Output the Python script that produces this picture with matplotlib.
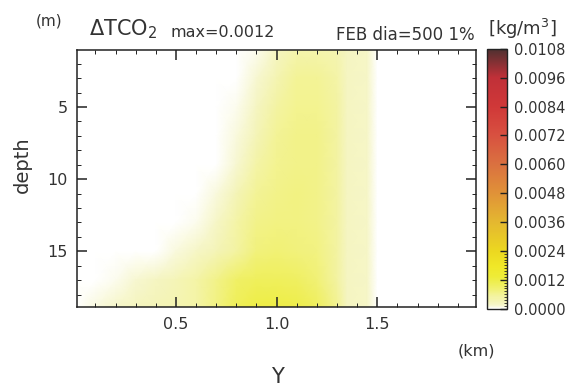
import numpy as np
import matplotlib
matplotlib.use("Agg")
import matplotlib.pyplot as plt
from matplotlib.colors import LinearSegmentedColormap
from matplotlib.ticker import MultipleLocator, FixedLocator

# horizontal distance Y (km) and depth (m) of the grid
y_km = [0.0, 0.1, 0.2, 0.3, 0.4, 0.5, 0.6, 0.7, 0.8, 0.9, 1.0,
        1.1, 1.2, 1.3, 1.35, 1.45, 1.5, 1.6, 1.8, 2.0]
depth_m = [1, 3, 5, 7, 9, 11, 13, 15, 17, 19]

# delta TCO2 in 1e-4 kg/m3, one row per depth
d01 = [0, 0, 0, 0, 0, 0, 0, 0, 0.0, 0.8, 2.5, 4.0, 4.0, 3.5, 2.2, 1.8, 0, 0, 0, 0]
d03 = [0, 0, 0, 0, 0, 0, 0, 0, 0.3, 1.6, 3.5, 5.5, 5.5, 4.5, 2.5, 2.0, 0, 0, 0, 0]
d05 = [0, 0, 0, 0, 0, 0, 0, 0, 0.6, 2.2, 5.0, 6.0, 6.0, 5.0, 2.5, 2.0, 0, 0, 0, 0]
d07 = [0, 0, 0, 0, 0, 0, 0, 0.2, 1.2, 3.2, 5.5, 6.5, 6.5, 5.0, 2.5, 2.0, 0, 0, 0, 0]
d09 = [0, 0, 0, 0, 0, 0, 0, 0.4, 1.6, 4.5, 6.0, 6.5, 6.5, 5.0, 2.5, 2.0, 0, 0, 0, 0]
d11 = [0, 0, 0, 0, 0, 0, 0.2, 0.9, 3.0, 5.5, 6.5, 7.0, 6.5, 5.0, 2.5, 2.0, 0, 0, 0, 0]
d13 = [0, 0, 0, 0, 0, 0.2, 0.8, 1.8, 4.5, 6.5, 7.0, 7.0, 6.5, 5.0, 2.5, 2.0, 0, 0, 0, 0]
d15 = [0, 0, 0, 0, 0.3, 1.0, 2.0, 3.0, 5.0, 7.5, 8.0, 7.5, 7.0, 5.0, 2.5, 2.0, 0, 0, 0, 0]
d17 = [0, 0.2, 0.8, 1.5, 2.4, 3.2, 4.5, 6.5, 9.0, 10.0, 10.0, 9.5, 8.0, 5.0, 2.5, 2.0, 0, 0, 0, 0]
d19 = [0.2, 1.2, 2.0, 2.6, 3.0, 3.5, 4.5, 7.0, 10.5, 12.0, 12.0, 11.5, 10.0, 6.0, 2.5, 2.0, 0, 0, 0, 0]

cbar_ticks = [0.0000, 0.0012, 0.0024, 0.0036, 0.0048, 0.0060,
              0.0072, 0.0084, 0.0096, 0.0108]

tco2 = np.array([d01, d03, d05, d07, d09, d11, d13, d15, d17, d19]) * 1e-4
YY, DD = np.meshgrid(y_km, depth_m)

cmap = LinearSegmentedColormap.from_list("tco2", [
    (0.00, "#ffffff"), (0.008, "#f9f9dc"), (0.015, "#f6f6c8"),
    (0.03, "#f4f4b4"), (0.05, "#f3f398"), (0.07, "#f1f176"),
    (0.10, "#eeee50"), (0.12, "#eeec38"), (0.16, "#f0e828"),
    (0.22, "#ecd820"), (0.33, "#e4b830"), (0.45, "#e09038"),
    (0.56, "#da7040"), (0.67, "#d85040"), (0.78, "#d03838"),
    (0.89, "#c03038"), (1.00, "#503030")])

txt = "#333333"
plt.rcParams["font.family"] = ["DejaVu Sans"]

fig = plt.figure(figsize=(5.75, 3.88), dpi=100)
ax = fig.add_axes([0.1344, 0.2075, 0.6934, 0.6636])
im = ax.pcolormesh(YY, DD, tco2, shading="gouraud", cmap=cmap,
                   vmin=0, vmax=0.0108)
ax.set_xlim(0.01, 1.99)
ax.set_ylim(18.9, 1.05)
ax.set_xticks([0.5, 1.0, 1.5])
ax.set_xticklabels(["0.5", "1.0", "1.5"])
ax.set_yticks([5, 10, 15])
ax.xaxis.set_minor_locator(MultipleLocator(0.1))
ax.yaxis.set_minor_locator(MultipleLocator(1))
ax.tick_params(which="both", direction="in", top=True, right=True,
               colors="#222222", labelcolor=txt, labelsize=11.5)
ax.tick_params(which="major", length=7, width=1.1, pad=7)
ax.tick_params(which="minor", length=3, width=0.7)
for s in ax.spines.values():
    s.set_linewidth(1.1)
    s.set_color("#222222")

cax = fig.add_axes([0.847, 0.2045, 0.0348, 0.6695])
cb = fig.colorbar(im, cax=cax, ticks=cbar_ticks)
cb.ax.set_yticklabels(["%.4f" % t for t in cbar_ticks])
cb.ax.yaxis.set_minor_locator(FixedLocator(np.arange(0, 0.0025, 0.00012)))
cb.ax.tick_params(which="both", direction="in", colors="#222222",
                  labelcolor=txt, labelsize=10.5)
cb.ax.tick_params(which="major", length=5, width=1.0, pad=5)
cb.ax.tick_params(which="minor", length=2.5, width=0.6)
cb.outline.set_linewidth(1.0)
cb.outline.set_edgecolor("#222222")

fig.text(36 / 575, 1 - 21 / 388, "(m)", fontsize=11, color=txt,
         ha="left", va="center")
fig.text(89 / 575, 1 - 35 / 388, r"$\Delta$TCO$_2$", fontsize=15,
         color=txt, ha="left", va="baseline")
fig.text(170 / 575, 1 - 37 / 388, "max=0.0012", fontsize=11.5, color=txt,
         ha="left", va="baseline")
fig.text(475 / 575, 1 - 40 / 388, "FEB dia=500 1%", fontsize=12,
         color=txt, ha="right", va="baseline")
fig.text(488 / 575, 1 - 35 / 388, r"[kg/m$^3$]", fontsize=13, color=txt,
         ha="left", va="baseline")
fig.text(22 / 575, 1 - 165 / 388, "depth", fontsize=14, color=txt,
         rotation=90, ha="center", va="center")
fig.text(277 / 575, 1 - 377 / 388, "Y", fontsize=15, color=txt,
         ha="center", va="center")
fig.text(476 / 575, 1 - 351 / 388, "(km)", fontsize=11.5, color=txt,
         ha="center", va="center")

fig.savefig("out.png", dpi=100)
